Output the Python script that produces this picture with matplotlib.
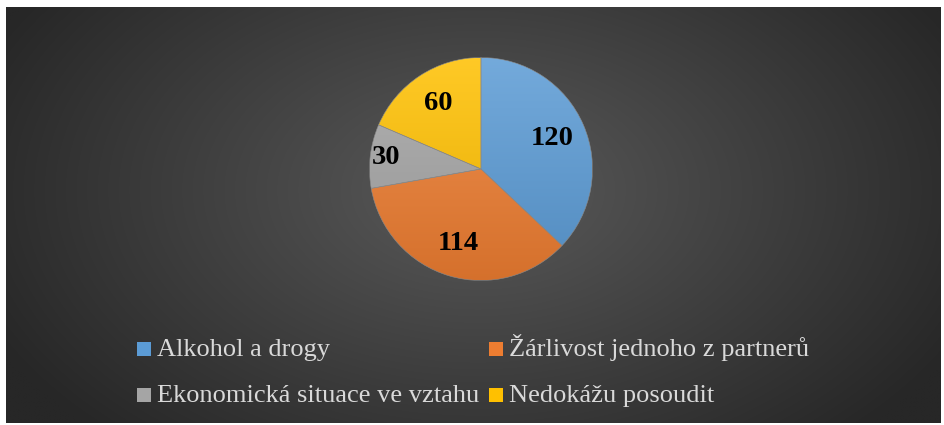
import numpy as np
import matplotlib
matplotlib.use("Agg")
import matplotlib.pyplot as plt
from matplotlib.patches import Rectangle
from matplotlib.colors import to_rgb

# Data
categories = ["Alkohol a drogy", "Žárlivost jednoho z partnerů",
              "Ekonomická situace ve vztahu", "Nedokážu posoudit"]
values = [120, 114, 30, 60]
colors = ["#5B9BD5", "#ED7D31", "#A5A5A5", "#FFC000"]

W, H = 944, 425
fig = plt.figure(figsize=(W / 100, H / 100), dpi=100)
fig.patch.set_facecolor("white")

# Background with radial gradient (pixel coordinates)
bg = fig.add_axes([0, 0, 1, 1])
bg.set_xlim(0, W)
bg.set_ylim(H, 0)
bg.axis("off")
x0, x1, y0, y1 = 6, 941, 7, 423
xx, yy = np.meshgrid(np.linspace(x0, x1, 400), np.linspace(y0, y1, 200))
d = np.sqrt(((xx - 478) / 540) ** 2 + ((yy - 190) / 340) ** 2)
d = np.clip(d, 0, 1)
light, dark = 0x5a / 255, 0x27 / 255
g = light + (dark - light) * d
bg.imshow(np.dstack([g, g, g]), extent=(x0, x1, y1, y0), aspect="auto",
          interpolation="bilinear")

# Pie
cx, cy, r = 481, 169, 111.5
ax = fig.add_axes([(cx - r) / W, 1 - (cy + r) / H, 2 * r / W, 2 * r / H])
wedges, _ = ax.pie(values, colors=colors, startangle=90, counterclock=False,
                   radius=1, wedgeprops=dict(edgecolor="#8a8a8a", linewidth=0.4))
ax.set_xlim(-1, 1)
ax.set_ylim(-1, 1)
ax.set_aspect("equal")

# vertical gradient shading on each wedge
yv = np.linspace(1, -1, 200)[:, None] * np.ones((1, 200))
t = (1 - yv) / 2
for w, c in zip(wedges, colors):
    base = np.array(to_rgb(c))
    top = base + (1 - base) * 0.15
    bot = base * 0.9
    grad = top[None, None, :] * (1 - t[..., None]) + bot[None, None, :] * t[..., None]
    im = ax.imshow(grad, extent=(-1, 1, -1, 1), zorder=w.get_zorder() + 0.1,
                   interpolation="bilinear")
    im.set_clip_path(w)
    w.set_zorder(w.get_zorder() + 0.2)
    w.set_facecolor("none")

total = sum(values)
for w, v in zip(wedges, values):
    ang = np.deg2rad((w.theta1 + w.theta2) / 2)
    dist = 0.86 if v / total < 0.1 else 0.7
    ax.text(dist * np.cos(ang), dist * np.sin(ang), str(v), ha="center", va="center",
            fontsize=20.5, fontweight="bold", family="Liberation Serif", color="black",
            zorder=5)

# Legend, two columns, drawn in pixel coordinates
col_x = [137, 489]
row_y = [356, 402]   # baselines / marker bottoms
box = 14
for i, (lab, c) in enumerate(zip(categories, colors)):
    px = col_x[i % 2]
    py = row_y[i // 2]
    bg.add_patch(Rectangle((px, py - box), box, box, facecolor=c, edgecolor="none"))
    bg.text(px + box + 6, py, lab, ha="left", va="baseline", fontsize=19,
            family="Liberation Serif", color="#d9d9d9")

fig.savefig("out.png", dpi=100)
